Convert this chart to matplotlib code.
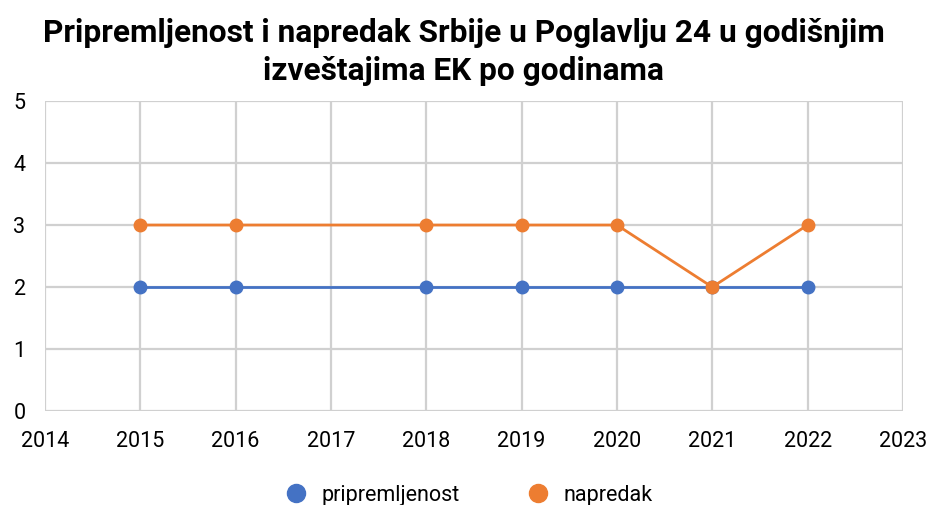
import matplotlib.pyplot as plt
from matplotlib.lines import Line2D

plt.rcParams['font.family'] = ['Roboto', 'DejaVu Sans']

godine = [2015, 2016, 2018, 2019, 2020, 2021, 2022]
pripremljenost = [2, 2, 2, 2, 2, 2, 2]
napredak = [3, 3, 3, 3, 3, 2, 3]

plava = '#4472C4'
narandzasta = '#ED7D31'

fig = plt.figure(figsize=(9.27, 5.05), dpi=100)
ax = fig.add_axes([0.0485, 0.186, 0.9255, 0.614])

ax.plot(godine, pripremljenost, color=plava, lw=2, marker='o', markersize=9, zorder=3)
ax.plot(godine, napredak, color=narandzasta, lw=2, marker='o', markersize=9, zorder=4)

ax.set_xlim(2014, 2023)
ax.set_ylim(0, 5)
ax.set_xticks(range(2014, 2024))
ax.set_yticks(range(0, 6))
ax.grid(True, color='#d0d0d0', lw=1.6)
ax.set_axisbelow(True)
for s in ax.spines.values():
    s.set_visible(False)
ax.tick_params(length=0, labelsize=15.5, colors='black')
ax.tick_params(axis='x', pad=14)
ax.tick_params(axis='y', pad=14)

fig.text(0.5, 1 - 18 / 505,
         'Pripremljenost i napredak Srbije u Poglavlju 24 u godišnjim\nizveštajima EK po godinama',
         ha='center', va='top', fontsize=22.8, fontweight='bold', linespacing=1.32)

handles = [Line2D([], [], color=plava, marker='o', ls='', markersize=13),
           Line2D([], [], color=narandzasta, marker='o', ls='', markersize=13)]
fig.legend(handles, ['pripremljenost', 'napredak'], loc='center', bbox_to_anchor=(0.5, 1 - 495 / 505),
           ncol=2, frameon=False, fontsize=15.5, handletextpad=0.2, columnspacing=2.6)

plt.savefig('out.png', dpi=100)
